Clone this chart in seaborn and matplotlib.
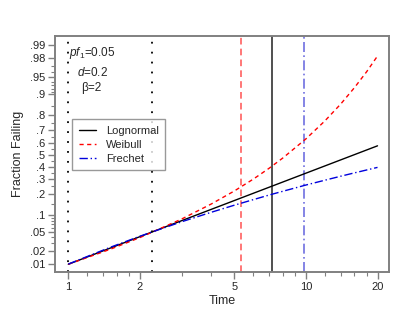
import numpy as np
import pandas as pd
import matplotlib
matplotlib.use('Agg')
import matplotlib.pyplot as plt
from matplotlib.ticker import NullFormatter
import seaborn as sns
from statistics import NormalDist

# values
times = [1, 1.5, 2, 3, 4, 5, 6, 7, 8, 10, 12, 14, 16, 18, 20]
lognormal_t = [1, 2.24, 20]
lognormal_p = [0.01, 0.05, 0.575]
weibull_p = [0.0100, 0.0223, 0.0392, 0.0861, 0.148, 0.221, 0.302, 0.387,
             0.473, 0.632, 0.763, 0.859, 0.923, 0.961, 0.982]
frechet_p = [0.0101, 0.0246, 0.0417, 0.0773, 0.111, 0.142, 0.170, 0.196,
             0.219, 0.260, 0.294, 0.324, 0.350, 0.373, 0.394]

vline_dotted = [1, 2.24]
vline_weibull = 5.33
vline_lognormal = 7.17
vline_frechet = 9.81

y_ticks = [0.01, 0.02, 0.05, 0.1, 0.2, 0.3, 0.4, 0.5, 0.6, 0.7, 0.8, 0.9, 0.95, 0.98, 0.99]
y_labels = ['.01', '.02', '.05', '.1', '.2', '.3', '.4', '.5', '.6', '.7', '.8', '.9', '.95', '.98', '.99']
y_minor = [0.03, 0.04, 0.06, 0.07, 0.08, 0.09, 0.15, 0.25, 0.35, 0.45, 0.55, 0.65,
           0.75, 0.85, 0.91, 0.92, 0.93, 0.94, 0.96, 0.97]
x_ticks = [1, 2, 5, 10, 20]
x_minor = [1.2, 1.4, 1.6, 1.8, 3, 4, 6, 7, 8, 9, 12, 14, 16, 18]

df = pd.concat([
    pd.DataFrame({'Time': lognormal_t, 'p': lognormal_p, 'dist': 'Lognormal'}),
    pd.DataFrame({'Time': times, 'p': weibull_p, 'dist': 'Weibull'}),
    pd.DataFrame({'Time': times, 'p': frechet_p, 'dist': 'Frechet'}),
])

sns.set_style('ticks')
plt.rcParams['font.family'] = ['Liberation Sans', 'DejaVu Sans']
plt.rcParams['mathtext.fontset'] = 'custom'
plt.rcParams['mathtext.rm'] = 'Liberation Sans'
plt.rcParams['mathtext.it'] = 'Liberation Sans:italic'

_nd = NormalDist()


def fwd(p):
    p = np.clip(np.asarray(p, dtype=float), 1e-9, 1 - 1e-9)
    return np.vectorize(_nd.inv_cdf, otypes=[float])(p)


def inv(z):
    z = np.asarray(z, dtype=float)
    return np.vectorize(_nd.cdf, otypes=[float])(z)


fig = plt.figure(figsize=(4.15, 3.21), dpi=100)
ax = fig.add_axes([0.1325, 0.1526, 0.8048, 0.7352])

for t in vline_dotted:
    ax.axvline(t, color='black', lw=1.3, linestyle=(0, (1, 4.5)), zorder=1)
ax.axvline(vline_weibull, color='#ff6060', lw=1.2, linestyle=(0, (4, 2.5)), zorder=1)
ax.axvline(vline_lognormal, color='#505050', lw=1.4, zorder=1)
ax.axvline(vline_frechet, color='#7070e0', lw=1.2, linestyle=(0, (6, 2, 1, 2)), zorder=1)

sns.lineplot(data=df, x='Time', y='p', hue='dist', style='dist',
             hue_order=['Lognormal', 'Weibull', 'Frechet'],
             palette={'Lognormal': 'black', 'Weibull': '#ff0000', 'Frechet': '#0000dd'},
             dashes={'Lognormal': '', 'Weibull': (3, 2.5), 'Frechet': (6, 2, 1, 2)},
             estimator=None, sort=True, lw=1, ax=ax, zorder=3)

ax.set_xscale('log')
ax.set_yscale('function', functions=(fwd, inv))
ax.set_xlim(0.879, 22.35)
ax.set_ylim(0.00637, 0.99415)

ax.set_xticks(x_ticks)
ax.set_xticklabels([str(t) for t in x_ticks])
ax.set_xticks(x_minor, minor=True)
ax.xaxis.set_minor_formatter(NullFormatter())
ax.set_yticks(y_ticks)
ax.set_yticklabels(y_labels)
ax.set_yticks(y_minor, minor=True)
ax.yaxis.set_minor_formatter(NullFormatter())

ax.tick_params(which='major', length=5, width=1, color='#808080', labelsize=8, pad=2)
ax.tick_params(which='minor', length=3, width=0.8, color='#808080')
for s in ax.spines.values():
    s.set_color('#808080')
    s.set_linewidth(1.4)

ax.set_xlabel('Time', fontsize=9, labelpad=2)
ax.set_ylabel('Fraction Failing', fontsize=9, labelpad=4)

ax.text(0.043, 0.928, r'$pf_1$=0.05', transform=ax.transAxes, fontsize=8.5, va='center')
ax.text(0.065, 0.845, r'$d$=0.2', transform=ax.transAxes, fontsize=8.5, va='center')
ax.text(0.077, 0.778, 'β=2', transform=ax.transAxes, fontsize=8.5, va='center')

leg = ax.legend(loc='upper left', bbox_to_anchor=(0.052, 0.647), borderaxespad=0,
                fontsize=8, frameon=True, fancybox=False, handlelength=1.5,
                labelspacing=0.35, borderpad=0.6, handletextpad=0.9)
leg.get_frame().set_edgecolor('#808080')
leg.get_frame().set_linewidth(1)
leg.set_title(None)

fig.savefig('out.png', dpi=100)
